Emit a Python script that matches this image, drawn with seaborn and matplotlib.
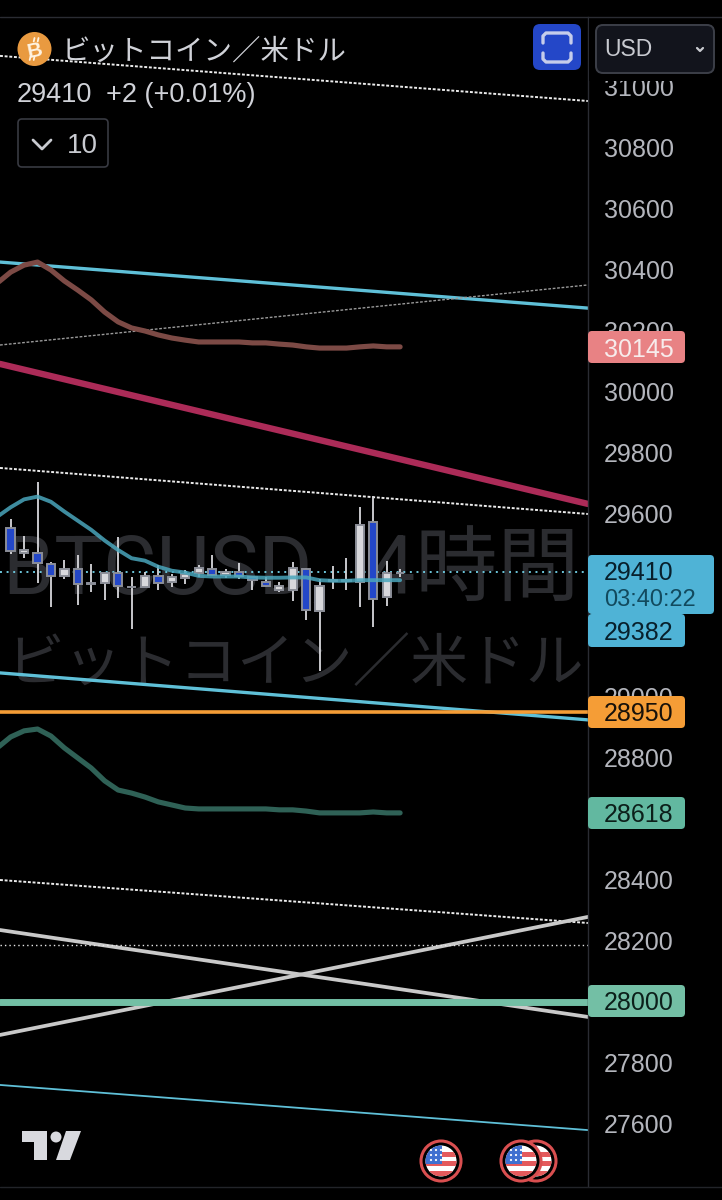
import matplotlib
matplotlib.use("Agg")
import matplotlib.pyplot as plt
from matplotlib.patches import Circle, FancyBboxPatch, Polygon, Rectangle
import pandas as pd
import seaborn as sns

# candles (white = up, blue = down)
highs = [29584, 29528, 29704, 29444, 29449, 29465, 29436, 29405, 29525, 29395,
         29411, 29433, 29402, 29416, 29433, 29465, 29419, 29438, 29393, 29395,
         29376, 29442, 29422, 29386, 29430, 29455, 29624, 29659, 29445, 29420]
lows = [29469, 29455, 29375, 29296, 29387, 29302, 29345, 29318, 29324, 29222,
        29362, 29351, 29360, 29370, 29392, 29397, 29389, 29386, 29351, 29362,
        29345, 29314, 29252, 29085, 29354, 29351, 29296, 29228, 29298, 29392]
opens = [29555, 29473, 29473, 29437, 29398, 29421, 29369, 29373, 29407, 29360,
         29362, 29396, 29376, 29391, 29405, 29421, 29399, 29411, 29392, 29377,
         29350, 29350, 29421, 29281, 29380, 29380, 29377, 29573, 29329, 29405]
closes = [29479, 29482, 29438, 29398, 29421, 29369, 29373, 29405, 29363, 29362,
          29397, 29374, 29395, 29402, 29422, 29401, 29411, 29398, 29383, 29363,
          29363, 29422, 29286, 29363, 29384, 29384, 29564, 29322, 29405, 29408]

# moving averages start one bar before the first whole candle
ma_bars = list(range(-1, 30))
ma_upper = [30357, 30393, 30416, 30426, 30400, 30364, 30334, 30302, 30262, 30230, 30210,
            30200, 30187, 30177, 30170, 30164, 30164, 30164, 30164, 30161, 30161,
            30157, 30154, 30148, 30144, 30144, 30144, 30148, 30151, 30148, 30148]
ma_mid = [29591, 29622, 29648, 29657, 29640, 29608, 29578, 29548, 29513, 29482, 29455,
          29447, 29427, 29414, 29408, 29397, 29395, 29395, 29395, 29392, 29391,
          29391, 29392, 29392, 29383, 29381, 29381, 29383, 29383, 29383, 29383]
ma_lower = [28833, 28869, 28889, 28895, 28872, 28833, 28800, 28767, 28725, 28695, 28685,
            28672, 28656, 28646, 28636, 28633, 28633, 28633, 28633, 28633, 28633,
            28630, 28630, 28626, 28620, 28620, 28620, 28620, 28623, 28620, 28620]

# trend lines: price at the left edge and right edge of the chart
trend_left = [31102, 30426, 30154, 30092, 29751, 29079, 28400, 28236, 27892, 27728]
trend_right = [30954, 30275, 30351, 29633, 29600, 28925, 28259, 27951, 28279, 27580]
level_prices = [29410, 28950, 28187, 28000]
# 29400, 29200, 28600 and 28000 sit fully behind the price badges
tick_prices = [27600, 27800, 28200, 28400, 28800, 29000, 29600, 29800,
               30000, 30200, 30400, 30600, 30800, 31000]

sns.set_theme(style="dark")
plt.rcParams["font.family"] = ["Liberation Sans", "Noto Sans CJK JP", "DejaVu Sans"]

fig = plt.figure(figsize=(7.22, 12), dpi=100, facecolor="black")
ax = fig.add_axes([0, 1 - 1186 / 1200, 588 / 722, (1186 - 17) / 1200])
ax.set_facecolor("black")
x_left, x_right = -0.794, 42.99
ax.set_xlim(x_left, x_right)
ax.set_ylim(27396.7, 31229.5)


def figtext(x, y, s, **kw):
    # pixel position, y from the top
    kw.setdefault("va", "center")
    return ax.text(x / 722, 1 - y / 1200, s, transform=fig.transFigure, **kw)


# watermark
figtext(3, 571, "BTCUSD,  4時間", color="#2b2c30", fontsize=59, zorder=1, clip_on=False,
        family=["Roboto", "Noto Sans CJK JP"])
figtext(6, 666, "ビットコイン／米ドル", color="#2b2c30", fontsize=41.6, zorder=1, clip_on=False)

dotted = dict(color="#ececec", lw=1.4, linestyle=(0, (1.5, 0.9)))
trend_styles = [
    dotted,
    dict(color="#5fc0d8", lw=2.4),
    dict(color="#9a9a9a", lw=1.0, linestyle=(0, (2.0, 1.2))),
    dict(color="#ac2b58", lw=4.6),
    dotted,
    dict(color="#5fc0d8", lw=2.4),
    dotted,
    dict(color="#c9c9c9", lw=2.7),
    dict(color="#c9c9c9", lw=2.7),
    dict(color="#5fc0d8", lw=1.3),
]
for left, right, style in zip(trend_left, trend_right, trend_styles):
    sns.lineplot(x=[x_left, x_right], y=[left, right], ax=ax, estimator=None,
                 legend=False, zorder=2, **style)

level_styles = [
    dict(color="#6cc5da", lw=1.4, linestyle=(0, (1, 2.4))),
    dict(color="#f59d36", lw=2.6),
    dict(color="#e8e8e8", lw=1.0, linestyle=(0, (1, 2.2))),
    dict(color="#73bfa5", lw=5),
]
for price, style in zip(level_prices, level_styles):
    ax.axhline(price, zorder=2.5, **style)

# moving averages
ma_df = pd.DataFrame({"bar": ma_bars, "upper": ma_upper, "mid": ma_mid, "lower": ma_lower})
sns.lineplot(data=ma_df, x="bar", y="upper", color="#7c4a45", lw=3.7, ax=ax, zorder=3)
sns.lineplot(data=ma_df, x="bar", y="lower", color="#2f6156", lw=3.7, ax=ax, zorder=3)

# candles
for i in range(len(opens)):
    up = closes[i] >= opens[i]
    ax.vlines(i, lows[i], highs[i], color="#d8d8dc", lw=1.3, zorder=4)
    ax.bar(i, abs(closes[i] - opens[i]), bottom=min(opens[i], closes[i]), width=0.62,
           color="#d8d8dc" if up else "#2347c8", edgecolor="#8b8e98", linewidth=1.4, zorder=5)
sns.lineplot(data=ma_df, x="bar", y="mid", color="#4aa6bc", lw=2.8, alpha=0.85, ax=ax, zorder=6)

ax.set_xlabel("")
ax.set_ylabel("")
ax.set_xticks([])
ax.yaxis.tick_right()
ax.set_yticks(tick_prices)
ax.tick_params(axis="y", length=0, pad=11.5, labelsize=18, labelcolor="#b4b6bd")
for name in ["top", "bottom", "left"]:
    ax.spines[name].set_visible(False)
ax.spines["right"].set_color("#2a2c33")
ax.spines["right"].set_linewidth(1)
ax.grid(False)

# overlay in pixels for the app furniture
ov = fig.add_axes([0, 0, 1, 1])
ov.set_xlim(0, 722)
ov.set_ylim(1200, 0)
ov.axis("off")
ov.patch.set_visible(False)

ov.add_patch(Rectangle((589, 17), 133, 64, color="black", lw=0))
ov.plot([0, 722], [16.5, 16.5], color="#2a2c33", lw=1)
ov.plot([0, 722], [1187, 1187], color="#222429", lw=1)


def box(x0, y0, x1, y1, face, edge="none", lw=0, r=4):
    ov.add_patch(FancyBboxPatch((x0 + r, y0 + r), x1 - x0 - 2 * r, y1 - y0 - 2 * r,
                                boxstyle=f"round,pad={r},rounding_size={r}",
                                facecolor=face, edgecolor=edge, linewidth=lw))


# price badges
box(588, 331, 685, 363, "#e88284")
ov.text(604, 350, "30145", color="#f7ecec", fontsize=18, va="center")
box(588, 555, 714, 614, "#4fb3d6")
box(588, 614, 685, 647, "#4fb3d6")
ov.text(604, 573, "29410", color="#08202c", fontsize=18, va="center")
ov.text(604, 600, "03:40:22", color="#124a5e", fontsize=17, va="center")
ov.text(604, 633, "29382", color="#08202c", fontsize=18, va="center")
box(588, 696, 685, 728, "#f59d36")
ov.text(604, 714, "28950", color="#17110a", fontsize=18, va="center")
box(588, 797, 685, 829, "#62b8a0")
ov.text(604, 815, "28618", color="#0c1f1a", fontsize=18, va="center")
box(588, 985, 685, 1017, "#73bfa5")
ov.text(604, 1003, "28000", color="#0c1f1a", fontsize=18, va="center")

# header, the coin sign is not in any installed font so its bars are drawn on a B
ov.add_patch(Circle((34.5, 49), 17, color="#e99a40", lw=0))
ov.text(34.5, 51, "B", color="#fff3e2", fontsize=15, fontweight="bold", rotation=12,
        ha="center", va="center")
for tick_x in (34.5, 38.5):
    ov.plot([tick_x, tick_x - 0.8], [38, 41.5], color="#fff3e2", lw=1.3)
    ov.plot([tick_x - 4, tick_x - 4.8], [56.5, 60], color="#fff3e2", lw=1.3)
ov.text(62, 52, "ビットコイン／米ドル", color="#d0d2d8", fontsize=20.5, va="center")
ov.text(17, 95, "29410", color="#d0d2d8", fontsize=19.5, va="center")
ov.text(106, 95, "+2 (+0.01%)", color="#d0d2d8", fontsize=19.5, va="center")
box(18, 119, 108, 167, "black", "#383a42", 1.2)
ov.plot([33, 42, 51], [140, 149, 140], color="#c8cad0", lw=2)
ov.text(67, 146, "10", color="#c8cad0", fontsize=20, va="center")

box(533, 24, 581, 70, "#2447c8", r=7)
ov.plot([543, 543, 546, 568, 571, 571], [43, 36, 33, 33, 36, 43], color="#c6cdeb", lw=2.4)
ov.plot([543, 543, 546, 568, 571, 571], [53, 59, 62, 62, 59, 53], color="#c6cdeb", lw=2.4)

box(596, 25, 714, 73, "#12141c", "#3c3f48", 1.4, r=7)
ov.text(604, 50, "USD", color="#c8cad0", fontsize=16.5, va="center")
ov.plot([697, 700, 703], [48, 51, 48], color="#c8cad0", lw=1.6)

# logo
logo_color = "#d8d9de"
ov.add_patch(Polygon([(22, 1131), (47, 1131), (47, 1160), (34, 1160), (34, 1142), (22, 1142)],
                     color=logo_color, lw=0))
ov.add_patch(Circle((56, 1137), 5.5, color=logo_color, lw=0))
ov.add_patch(Polygon([(66, 1131), (81, 1131), (70, 1160), (56, 1160)], color=logo_color, lw=0))


def flag(cx, cy, r=20):
    ov.add_patch(Circle((cx, cy), r, facecolor="black", edgecolor="#d94f50", linewidth=2.2))
    face = Circle((cx, cy), r - 4.5, facecolor="white", edgecolor="none")
    ov.add_patch(face)
    for dy in (-9, 0, 10):
        stripe = Rectangle((cx - r, cy + dy), 2 * r, 5, color="#e45a5c", lw=0)
        ov.add_patch(stripe)
        stripe.set_clip_path(face)
    canton = Rectangle((cx - r, cy - r), r + 1, r + 3, color="#3f6fd0", lw=0)
    ov.add_patch(canton)
    canton.set_clip_path(face)
    for dx in (-10, -5, 0):
        for dy in (-11, -6, -1):
            ov.add_patch(Circle((cx + dx, cy + dy), 1.1, color="white", lw=0))


flag(536, 1161)
flag(521, 1161)
flag(441, 1161)

fig.savefig("out.png", dpi=100, facecolor="black")
